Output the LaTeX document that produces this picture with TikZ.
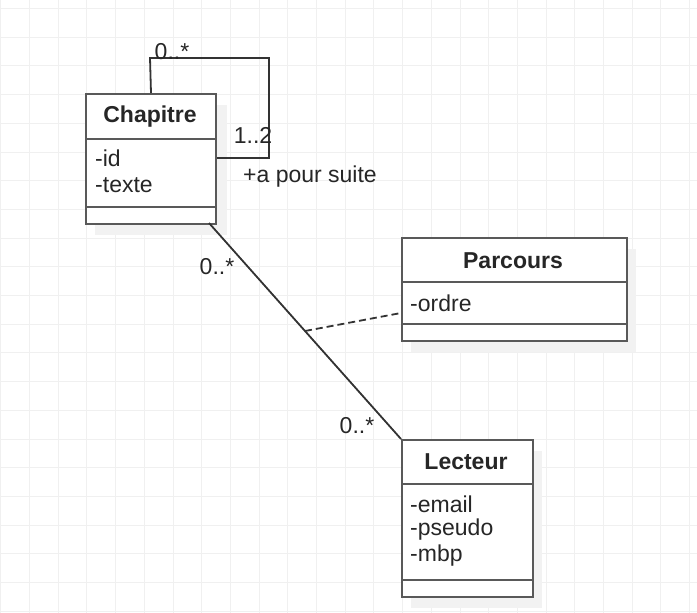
\documentclass[tikz,border=0pt]{standalone}
\usepackage{fontspec}
\setmainfont{Liberation Sans}
\begin{document}
\begin{tikzpicture}[x=1pt,y=-1pt,
  txt/.style={inner sep=0pt,font=\fontsize{23}{27}\selectfont,text=black!85},
  hdr/.style={txt,font=\fontsize{23}{27}\selectfont\bfseries},
  attr/.style={txt,anchor=west},
  umlbox/.style={draw=black!65,line width=2pt,fill=white,anchor=north west,inner sep=0pt},
  sep/.style={draw=black!65,line width=2pt},
  shadowbox/.style={fill=black!5,draw=none},
  assoc/.style={draw=black!80,line width=1.8pt},
  gridline/.style={draw=black!6,line width=1pt}]
\useasboundingbox (0,0) rectangle (697,613);
\fill[white] (0,0) rectangle (697,613);
% grid
\foreach \k in {0,...,24} {\draw[gridline] (0.8+28.7*\k,0) -- (0.8+28.7*\k,613);}
\foreach \k in {0,...,21} {\draw[gridline] (0,8.5+28.7*\k) -- (697,8.5+28.7*\k);}
% shadows
\fill[shadowbox] (95,105) rectangle (227,235);
\fill[shadowbox] (411,249) rectangle (636,352);
\fill[shadowbox] (411,451) rectangle (542,608);
% Chapitre
\node[umlbox,minimum width=130pt,minimum height=130pt] (chap) at (85,93) {};
\draw[sep] (85,139) -- (215,139);
\draw[sep] (85,207) -- (215,207);
\node[hdr] (chapt) at (150,117) {Chapitre};
\node[attr] (chapa1) at (95,158) {-id};
\node[attr] (chapa2) at (95,185) {-texte};
% Parcours
\node[umlbox,minimum width=225pt,minimum height=103pt] (parc) at (401,237) {};
\draw[sep] (401,282) -- (626,282);
\draw[sep] (401,324) -- (626,324);
\node[hdr] (parct) at (513,261) {Parcours};
\node[attr] (parca1) at (410,303) {-ordre};
% Lecteur
\node[umlbox,minimum width=131pt,minimum height=157pt] (lect) at (401,439) {};
\draw[sep] (401,484) -- (532,484);
\draw[sep] (401,580) -- (532,580);
\node[hdr] (lectt) at (466,462) {Lecteur};
\node[attr] (lecta1) at (410,504) {-email};
\node[attr] (lecta2) at (410,530) {-pseudo};
\node[attr] (lecta3) at (410,556) {-mbp};
% self association
\coordinate (lp1) at (150,58);
\coordinate (lp2) at (269,158);
\draw[assoc,line join=miter] (chap.north) -- (lp1) -| (lp2) -- (chap.east |- lp2);
\node[txt] (m1) at (172,52) {0..*};
\node[txt] (m2) at (253,135) {1..2};
\node[txt] (rl) at (310,177) {+a pour suite};
% association Chapitre - Lecteur
\coordinate (c1) at (209,223);
\draw[assoc] (c1) -- coordinate[pos=0.5] (mid) (lect.north west);
\coordinate (pe) at (401,313);
\draw[assoc,dash pattern=on 7pt off 4pt] (mid) -- (pe);
\node[txt] (m3) at (217,267) {0..*};
\node[txt] (m4) at (357,426) {0..*};
\end{tikzpicture}
\end{document}
